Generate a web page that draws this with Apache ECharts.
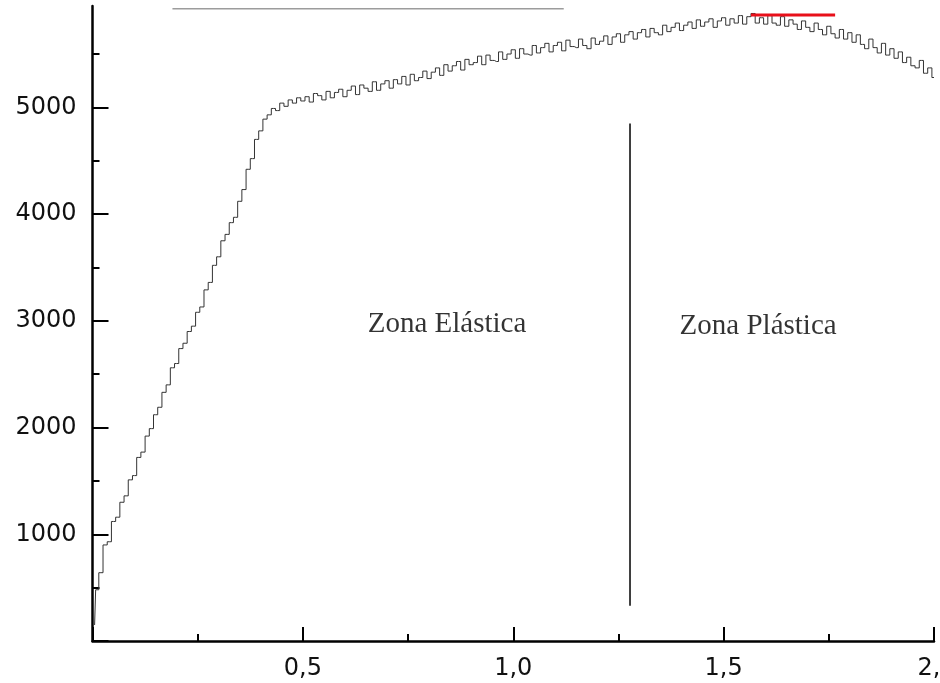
<!DOCTYPE html>
<html>
<head>
<meta charset="utf-8">
<script src="https://cdn.jsdelivr.net/npm/echarts@6/dist/echarts.min.js"></script>
<style>
  html, body { margin: 0; padding: 0; background: #fff; }
  #chart { width: 940px; height: 683px; }
</style>
</head>
<body>
<div id="chart"></div>
<script>
// Tensile test record: strain (x) against load (y)
const strain = [
  0.005,
  0.01, 0.02, 0.03, 0.04, 0.05, 0.06, 0.07, 0.08, 0.09, 0.10,
  0.11, 0.12, 0.13, 0.14, 0.15, 0.16, 0.17, 0.18, 0.19, 0.20,
  0.21, 0.22, 0.23, 0.24, 0.25, 0.26, 0.27, 0.28, 0.29, 0.30,
  0.31, 0.32, 0.33, 0.34, 0.35, 0.36, 0.37, 0.38, 0.39, 0.40,
  0.41, 0.42, 0.43, 0.44, 0.45, 0.46, 0.47, 0.48, 0.49, 0.50,
  0.51, 0.52, 0.53, 0.54, 0.55, 0.56, 0.57, 0.58, 0.59, 0.60,
  0.61, 0.62, 0.63, 0.64, 0.65, 0.66, 0.67, 0.68, 0.69, 0.70,
  0.71, 0.72, 0.73, 0.74, 0.75, 0.76, 0.77, 0.78, 0.79, 0.80,
  0.81, 0.82, 0.83, 0.84, 0.85, 0.86, 0.87, 0.88, 0.89, 0.90,
  0.91, 0.92, 0.93, 0.94, 0.95, 0.96, 0.97, 0.98, 0.99, 1.00,
  1.01, 1.02, 1.03, 1.04, 1.05, 1.06, 1.07, 1.08, 1.09, 1.10,
  1.11, 1.12, 1.13, 1.14, 1.15, 1.16, 1.17, 1.18, 1.19, 1.20,
  1.21, 1.22, 1.23, 1.24, 1.25, 1.26, 1.27, 1.28, 1.29, 1.30,
  1.31, 1.32, 1.33, 1.34, 1.35, 1.36, 1.37, 1.38, 1.39, 1.40,
  1.41, 1.42, 1.43, 1.44, 1.45, 1.46, 1.47, 1.48, 1.49, 1.50,
  1.51, 1.52, 1.53, 1.54, 1.55, 1.56, 1.57, 1.58, 1.59, 1.60,
  1.61, 1.62, 1.63, 1.64, 1.65, 1.66, 1.67, 1.68, 1.69, 1.70,
  1.71, 1.72, 1.73, 1.74, 1.75, 1.76, 1.77, 1.78, 1.79, 1.80,
  1.81, 1.82, 1.83, 1.84, 1.85, 1.86, 1.87, 1.88, 1.89, 1.90,
  1.91, 1.92, 1.93, 1.94, 1.95, 1.96, 1.97, 1.98, 1.99, 2.00
];
const load = [
  150,
  480, 640, 900, 930, 1120, 1160, 1300, 1360, 1510, 1550,
  1720, 1770, 1920, 1990, 2120, 2190, 2330, 2400, 2560, 2600,
  2740, 2790, 2900, 2950, 3080, 3130, 3290, 3360, 3520, 3600,
  3750, 3810, 3920, 3970, 4120, 4230, 4420, 4520, 4700, 4780,
  4890, 4930, 4990, 4970, 5040, 5010, 5070, 5040, 5090, 5060,
  5100, 5050, 5130, 5110, 5070, 5150, 5090, 5140, 5170, 5100,
  5160, 5200, 5120, 5210, 5180, 5150, 5240, 5160, 5220, 5250,
  5180, 5260, 5220, 5290, 5210, 5310, 5250, 5280, 5340, 5270,
  5330, 5370, 5300, 5400, 5340, 5390, 5430, 5350, 5450, 5400,
  5420, 5480, 5400, 5490, 5440, 5430, 5520, 5450, 5500, 5540,
  5460, 5550, 5500, 5490, 5580, 5510, 5560, 5600, 5520, 5580,
  5610, 5530, 5630, 5570, 5560, 5640, 5580, 5550, 5650, 5590,
  5620, 5670, 5590, 5660, 5690, 5610, 5680, 5710, 5640, 5700,
  5730, 5660, 5740, 5700, 5680, 5770, 5710, 5750, 5790, 5720,
  5770, 5800, 5740, 5820, 5760, 5800, 5830, 5750, 5810, 5840,
  5770, 5830, 5790, 5860, 5780, 5850, 5880, 5790, 5840, 5780,
  5860, 5790, 5770, 5850, 5760, 5820, 5780, 5730, 5810, 5750,
  5710, 5790, 5730, 5680, 5760, 5690, 5650, 5730, 5640, 5700,
  5610, 5680, 5590, 5550, 5640, 5560, 5510, 5600, 5490, 5550,
  5460, 5520, 5420, 5470, 5390, 5370, 5440, 5320, 5370, 5280
];

// Axis ticks and labels
const xTickValues = [0.5, 1.0, 1.5, 2.0];
const xTickLabels = ['0,5', '1,0', '1,5', '2,'];
const yTickValues = [0, 1000, 2000, 3000, 4000, 5000];
const yTickLabels = ['', '1000', '2000', '3000', '4000', '5000'];
const yMinorTicks = [500, 1500, 2500, 3500, 4500, 5500];

// Reference lines
const dividerX = [1.2775, 1.2775];
const dividerY = [330, 4850];
const peakBandX = [1.565, 1.765];
const peakBandY = [5865, 5865];
const topRuleX = [0.19, 1.12];
const topRuleY = [5925, 5925];

// Zone captions
const zoneNames = ['Zona Elástica', 'Zona Plástica'];
const zoneX = [0.8425, 1.582];
const zoneY = [2966, 2947];

const pairs = (xs, ys) => xs.map((x, i) => [x, ys[i]]);

const chart = echarts.init(document.getElementById('chart'), null, { renderer: 'canvas' });

const axisBlack = '#000';
const labelFont = { fontFamily: 'DejaVu Sans, sans-serif', fontSize: 24, color: '#111' };

chart.setOption({
  animation: false,
  backgroundColor: '#fff',
  grid: { left: 92.5, right: 6, top: 6, bottom: 42, containLabel: false, outerBoundsMode: 'none' },
  xAxis: {
    type: 'value',
    min: 0,
    max: 2,
    interval: 0.5,
    axisLine: { lineStyle: { color: axisBlack, width: 2.5 } },
    axisTick: { inside: true, length: 14, lineStyle: { color: axisBlack, width: 2 } },
    minorTick: { show: true, splitNumber: 2, length: 7, lineStyle: { color: axisBlack, width: 2 } },
    splitLine: { show: false },
    minorSplitLine: { show: false },
    axisLabel: Object.assign({}, labelFont, {
      margin: 16,
      formatter: v => {
        const i = xTickValues.findIndex(t => Math.abs(t - v) < 1e-9);
        if (i < 0) return '';
        return i === xTickValues.length - 1 ? '{r|' + xTickLabels[i] + '}' : xTickLabels[i];
      },
      rich: { r: Object.assign({}, labelFont, { padding: [0, 10, 0, 0] }) }
    })
  },
  yAxis: [
    {
      type: 'value',
      min: 0,
      max: 5950,
      axisLine: { show: true, lineStyle: { color: axisBlack, width: 2.5 } },
      axisTick: { show: true, inside: true, length: 16, customValues: yTickValues, lineStyle: { color: axisBlack, width: 2 } },
      splitLine: { show: false },
      axisLabel: Object.assign({}, labelFont, {
        margin: 16,
        customValues: yTickValues,
        formatter: v => {
          const i = yTickValues.indexOf(v);
          return i < 0 ? '' : yTickLabels[i];
        }
      })
    },
    {
      type: 'value',
      min: 0,
      max: 5950,
      position: 'left',
      axisLine: { show: false },
      axisTick: { show: true, inside: true, length: 7, customValues: yMinorTicks, lineStyle: { color: axisBlack, width: 2 } },
      axisLabel: { show: false },
      splitLine: { show: false }
    }
  ],
  series: [
    {
      type: 'line',
      data: pairs(strain, load),
      step: 'middle',
      showSymbol: false,
      silent: true,
      lineStyle: { color: '#333', width: 1 },
      z: 3
    },
    {
      type: 'line',
      data: pairs(topRuleX, topRuleY),
      showSymbol: false,
      silent: true,
      lineStyle: { color: '#9c9c9c', width: 1.5 },
      z: 2
    },
    {
      type: 'line',
      data: pairs(peakBandX, peakBandY),
      showSymbol: false,
      silent: true,
      lineStyle: { color: '#e8101a', width: 3 },
      z: 4
    },
    {
      type: 'line',
      data: pairs(dividerX, dividerY),
      showSymbol: false,
      silent: true,
      lineStyle: { color: '#000', width: 1.5 },
      z: 2
    },
    {
      type: 'scatter',
      data: zoneNames.map((n, i) => ({ name: n, value: [zoneX[i], zoneY[i]] })),
      symbolSize: 0,
      silent: true,
      label: {
        show: true,
        position: 'inside',
        formatter: p => p.name,
        fontFamily: 'Liberation Serif, Times New Roman, serif',
        fontSize: 29,
        color: '#000'
      },
      z: 5
    }
  ]
});
</script>
</body>
</html>
